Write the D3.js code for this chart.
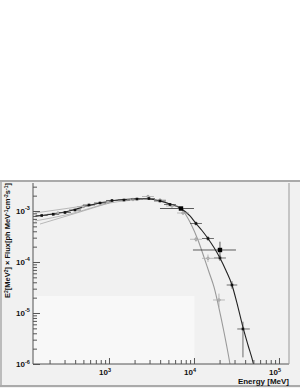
<!DOCTYPE html>
<html>
<head>
<meta charset="utf-8">
<script src="https://cdn.jsdelivr.net/npm/d3@7"></script>
<style>
  body { margin: 0; background: #fff; }
  svg { display: block; font-family: "Liberation Sans", Arial, sans-serif; }
  .tick-label { font-size: 8px; font-weight: bold; fill: #111; }
  .title { font-size: 7.5px; font-weight: bold; fill: #111; }
</style>
</head>
<body>
<svg id="chart" width="300" height="388"></svg>
<script>
// black points: [E, F, Elo, Ehi, Flo, Fhi]
const blackPts = [
  [161.5, 8.16e-4, 137, 190, 7.85e-4, 8.5e-4],
  [221, 8.61e-4, 188, 260, 8.3e-4, 8.95e-4],
  [303.6, 9.35e-4, 258, 357, 9.0e-4, 9.7e-4],
  [398, 1.046e-3, 339, 468, 1.0e-3, 1.09e-3],
  [582, 1.312e-3, 495, 684, 1.26e-3, 1.37e-3],
  [784, 1.436e-3, 667, 921, 1.38e-3, 1.5e-3],
  [1085, 1.607e-3, 923, 1275, 1.54e-3, 1.67e-3],
  [1501, 1.643e-3, 1277, 1764, 1.58e-3, 1.71e-3],
  [2135, 1.718e-3, 1817, 2509, 1.65e-3, 1.79e-3],
  [2955, 1.758e-3, 2515, 3472, 1.68e-3, 1.84e-3],
  [3981, 1.571e-3, 3388, 4678, 1.5e-3, 1.65e-3],
  [5222, 1.341e-3, 4444, 6136, 1.28e-3, 1.4e-3],
  [10556, 5.69e-4, 8983, 12400, 5.2e-4, 6.2e-4],
  [14610, 2.89e-4, 12430, 17170, 2.6e-4, 3.2e-4],
  [20220, 1.198e-4, 17200, 23760, 1.05e-4, 1.35e-4],
  [27990, 3.54e-5, 24260, 32300, 3.0e-5, 4.2e-5],
  [37680, 4.86e-6, 32300, 45400, 1.35e-6, 6.75e-6]
]

// large black points with wide bins
const bigPts = [
  [7031, 1.119e-3, 3981, 10000, 1.06e-3, 1.18e-3],
  [20220, 1.72e-4, 9730, 31190, 1.2e-4, 2.5e-4]
]

// gray points
const grayPts = [
  [251, 9.14e-4, 214, 295, 8.7e-4, 9.6e-4],
  [494, 1.225e-3, 420, 580, 1.17e-3, 1.28e-3],
  [973, 1.501e-3, 828, 1143, 1.43e-3, 1.57e-3],
  [1916, 1.68e-3, 1630, 2250, 1.6e-3, 1.76e-3],
  [2876, 1.924e-3, 2447, 3380, 1.8e-3, 2.05e-3],
  [3981, 1.643e-3, 3388, 4678, 1.57e-3, 1.72e-3],
  [5508, 1.253e-3, 4690, 6470, 1.18e-3, 1.33e-3],
  [7425, 9.14e-4, 6320, 8720, 8.4e-4, 9.9e-4],
  [10556, 2.79e-4, 8983, 12400, 2.5e-4, 3.1e-4],
  [14610, 1.18e-4, 12430, 17170, 1.0e-4, 1.4e-4],
  [19680, 1.8e-5, 16750, 23120, 1.3e-5, 2.4e-5]
]

// fitted curves: [E, F]
const blackCurve = [
  [134.7, 7.8e-4], [161.5, 8.16e-4], [303.6, 9.56e-4], [398, 1.07e-3],
  [582, 1.283e-3], [784, 1.436e-3], [1085, 1.585e-3], [1501, 1.68e-3],
  [2135, 1.733e-3], [2955, 1.718e-3], [3981, 1.571e-3], [5222, 1.371e-3],
  [7031, 1.119e-3], [8974, 7.98e-4], [10556, 5.69e-4], [12420, 4.15e-4],
  [14610, 2.89e-4], [17190, 1.92e-4], [20220, 1.198e-4], [23790, 6.81e-5],
  [27990, 3.54e-5], [32930, 1.31e-5], [37680, 5.31e-6], [43170, 2.36e-6],
  [50120, 1e-6], [56000, 4e-7]
]
const grayCurve = [
  [3981, 1.571e-3], [5222, 1.371e-3], [7031, 1.119e-3], [8054, 8.35e-4],
  [9220, 5.55e-4], [11140, 2.7e-4], [13110, 1.25e-4], [15010, 6.37e-5],
  [17190, 3.24e-5], [19680, 1.25e-5], [22540, 4.24e-6], [26520, 1e-6],
  [29000, 4e-7]
]
// low energy band lines
const bandLines = [
  [[134.7, 9.14e-4], [347.6, 1.145e-3], [1028, 1.535e-3]],
  [[134.7, 6.37e-4], [347.6, 8.73e-4], [1028, 1.436e-3], [2316, 1.68e-3]],
  [[154.3, 5.55e-4], [456, 9.56e-4], [1085, 1.501e-3]]
]

const xTicks = [3, 4, 5]
const yTicks = [-3, -4, -5, -6]

const svg = d3.select("#chart")
const m = { left: 33, right: 289, top: 183, bottom: 364 }

// panel background
svg.append("rect")
  .attr("x", 0).attr("y", 181).attr("width", 300).attr("height", 207)
  .attr("fill", "#f1f1f1")
svg.append("line")
  .attr("x1", 0).attr("x2", 300).attr("y1", 181).attr("y2", 181)
  .attr("stroke", "#aaa").attr("stroke-width", 2)
svg.append("line")
  .attr("x1", 1).attr("x2", 1).attr("y1", 181).attr("y2", 386)
  .attr("stroke", "#aaa").attr("stroke-width", 1.5)
svg.append("line")
  .attr("x1", 0).attr("x2", 300).attr("y1", 386).attr("y2", 386)
  .attr("stroke", "#aaa").attr("stroke-width", 2)

const x = d3.scaleLog()
  .domain([Math.pow(10, 2.106), Math.pow(10, 5.118)])
  .range([m.left, m.right])
const y = d3.scaleLog()
  .domain([1e-6, Math.pow(10, -2.451)])
  .range([m.bottom, m.top])

// faint empty legend box
svg.append("rect")
  .attr("x", m.left + 0.5).attr("y", 296)
  .attr("width", 161).attr("height", m.bottom - 296)
  .attr("fill", "#f8f8f8")

svg.append("clipPath").attr("id", "clip")
  .append("rect")
  .attr("x", m.left).attr("y", m.top)
  .attr("width", m.right - m.left).attr("height", m.bottom - m.top)

const plot = svg.append("g").attr("clip-path", "url(#clip)")

const line = d3.line()
  .x(d => x(d[0]))
  .y(d => y(d[1]))
  .curve(d3.curveMonotoneX)

bandLines.forEach(b => {
  plot.append("path").datum(b)
    .attr("d", line).attr("fill", "none")
    .attr("stroke", "#aaa").attr("stroke-width", 0.8)
})

plot.append("path").datum(grayCurve)
  .attr("d", line).attr("fill", "none")
  .attr("stroke", "#999").attr("stroke-width", 1.1)

plot.append("path").datum(blackCurve)
  .attr("d", line).attr("fill", "none")
  .attr("stroke", "#222").attr("stroke-width", 1.1)

// error bars
function drawErrors(data, colour, w) {
  let g = plot.append("g").attr("stroke", colour).attr("stroke-width", w)
  g.selectAll(".xerr").data(data).join("line")
    .attr("x1", d => x(d[2])).attr("x2", d => x(d[3]))
    .attr("y1", d => y(d[1])).attr("y2", d => y(d[1]))
  g.selectAll(".yerr").data(data).join("line")
    .attr("class", "yerr")
    .attr("x1", d => x(d[0])).attr("x2", d => x(d[0]))
    .attr("y1", d => y(d[4])).attr("y2", d => y(d[5]))
  return g
}

drawErrors(grayPts, "#aaa", 0.8)
plot.selectAll(".gp").data(grayPts).join("circle")
  .attr("cx", d => x(d[0])).attr("cy", d => y(d[1]))
  .attr("r", 1.3).attr("fill", "#bbb").attr("stroke", "#999").attr("stroke-width", 0.6)

drawErrors(blackPts, "#333", 0.7)
plot.selectAll(".bp").data(blackPts).join("rect")
  .attr("x", d => x(d[0]) - 1.3).attr("y", d => y(d[1]) - 1.3)
  .attr("width", 2.6).attr("height", 2.6).attr("fill", "#111")

drawErrors(bigPts, "#333", 0.8)
plot.selectAll(".bg").data(bigPts).join("rect")
  .attr("x", d => x(d[0]) - 2.2).attr("y", d => y(d[1]) - 2.2)
  .attr("width", 4.4).attr("height", 4.4).attr("fill", "#000")

const isMajor = d => Math.abs(Math.log10(d) - Math.round(Math.log10(d))) < 1e-6

// axes: ticks pointing inward
const xAxis = d3.axisTop(x).tickValues(x.ticks()).tickFormat("")
  .tickSize(4).tickSizeOuter(0)
svg.append("g")
  .attr("transform", "translate(0," + m.bottom + ")")
  .call(xAxis)
  .call(g => g.select(".domain").remove())
  .call(g => g.selectAll(".tick line").attr("stroke", "#555")
    .attr("y2", d => isMajor(d) ? -6 : -4))

const yAxis = d3.axisRight(y).tickValues(y.ticks()).tickFormat("")
  .tickSize(4).tickSizeOuter(0)
svg.append("g")
  .attr("transform", "translate(" + m.left + ",0)")
  .call(yAxis)
  .call(g => g.select(".domain").remove())
  .call(g => g.selectAll(".tick line").attr("stroke", "#555")
    .attr("x2", d => isMajor(d) ? 7 : 4))

// frame
svg.append("line")
  .attr("x1", m.left).attr("x2", m.right).attr("y1", m.bottom).attr("y2", m.bottom)
  .attr("stroke", "#555").attr("stroke-width", 1)
svg.append("line")
  .attr("x1", m.left).attr("x2", m.left).attr("y1", m.top).attr("y2", m.bottom)
  .attr("stroke", "#555").attr("stroke-width", 1)
svg.append("line")
  .attr("x1", m.right).attr("x2", m.right).attr("y1", m.top).attr("y2", m.bottom)
  .attr("stroke", "#999").attr("stroke-width", 1)

// tick labels
xTicks.forEach(p => {
  let t = svg.append("text").attr("class", "tick-label")
    .attr("x", x(Math.pow(10, p)) - 4).attr("y", 375)
    .attr("text-anchor", "middle")
  t.append("tspan").text("10")
  t.append("tspan").attr("dy", -3.5).attr("font-size", "5.5px").text(p)
})
yTicks.forEach(p => {
  let t = svg.append("text").attr("class", "tick-label")
    .attr("x", 16).attr("y", y(Math.pow(10, p)) + 3)
  t.append("tspan").text("10")
  t.append("tspan").attr("dy", -3.5).attr("font-size", "5.5px").text(p)
})

// axis titles
svg.append("text").attr("class", "title")
  .attr("x", m.right).attr("y", 384)
  .attr("text-anchor", "end")
  .style("font-size", "8px")
  .text("Energy [MeV]")

const yt = svg.append("text").attr("class", "title")
  .attr("transform", "translate(10," + (m.top) + ") rotate(-90)")
  .attr("text-anchor", "end")
const sup = (s) => yt.append("tspan").attr("dy", -2.5).attr("font-size", "5px").text(s)
const base = (s) => yt.append("tspan").attr("dy", 2.5).text(s)
yt.append("tspan").text("E")
sup("2")
base("[MeV")
sup("2")
base("] × Flux[ph MeV")
sup("-1")
base("cm")
sup("-2")
base("s")
sup("-1")
base("]")
</script>
</body>
</html>
